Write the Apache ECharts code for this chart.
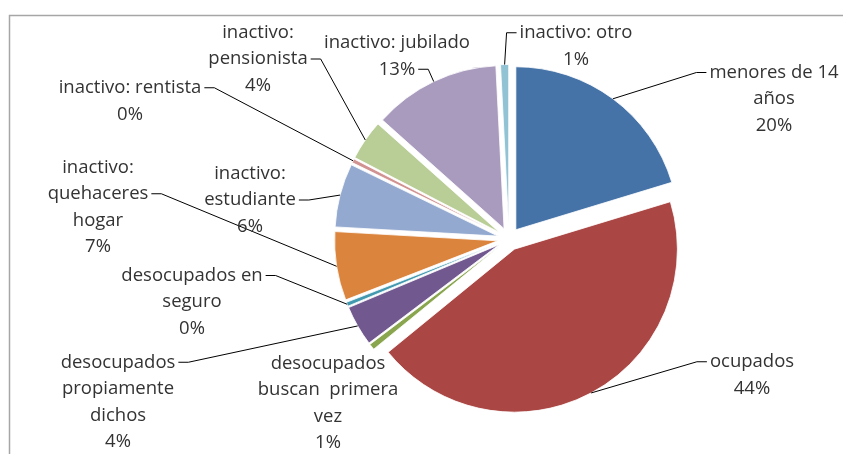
<!DOCTYPE html>
<html>
<head>
<meta charset="utf-8">
<script src="https://cdn.jsdelivr.net/npm/echarts@6/dist/echarts.min.js"></script>
<style>
  html, body { margin: 0; padding: 0; background: #fff; }
  #main { width: 843px; height: 454px; }
</style>
</head>
<body>
<div id="main"></div>
<script>
// categories as they are wrapped in the labels
const categories = [
  'menores de 14\naños',
  'ocupados',
  'desocupados\nbuscan  primera\nvez',
  'desocupados\npropiamente\ndichos',
  'desocupados en\nseguro',
  'inactivo:\nquehaceres\nhogar',
  'inactivo:\nestudiante',
  'inactivo: rentista',
  'inactivo:\npensionista',
  'inactivo: jubilado',
  'inactivo: otro'
]
// share of each group (%)
const values = [20.3, 43.8, 0.6, 4.0, 0.4, 6.8, 6.3, 0.4, 4.0, 12.6, 0.8]

const colors = ['#4572A7', '#AA4643', '#89A54E', '#71588F', '#4198AF', '#DB843D',
  '#93A9CF', '#D19392', '#B9CD96', '#A99BBD', '#91C3D5']

// label placement (centre of each text block) and which text line the leader meets (-1 = none)
const labelPos = [[774, 99], [752, 375], [328, 403], [118, 402], [192, 302], [98, 207],
  [250, 200], [130, 101], [258, 59], [397, 56], [576, 46]]
const leaderLine = [0, 0, -1, 0, 0, 1, 1, 0, 1, 1, 0]

const center = [509, 239]
const radius = 163
const explode = 11.5
const lineH = 26.5
const fontSize = 18.5
const fontFamily = 'Open Sans'

const labelText = function (p) {
  return p.name + '\n' + Math.round(p.percent) + '%'
}

// width of a single label line, so the leader meets that line's end
const ctx = document.createElement('canvas').getContext('2d')
ctx.font = fontSize + 'px "' + fontFamily + '"'
const lineWidth = function (s) { return ctx.measureText(s).width }

var myChart = echarts.init(document.getElementById('main'))
myChart.setOption({
  animation: false,
  graphic: [{
    type: 'rect',
    shape: { x: 9.5, y: 15.5, width: 900, height: 500 },
    style: { fill: 'none', stroke: '#a6a6a6', lineWidth: 1.5 },
    silent: true
  }],
  series: [
    {
      // exploded slices
      type: 'pie',
      center: center,
      radius: radius,
      startAngle: 90,
      selectedMode: 'multiple',
      selectedOffset: explode,
      emphasis: { disabled: true },
      itemStyle: { borderColor: '#fff', borderWidth: 0.8 },
      label: { show: false },
      labelLine: { show: false },
      data: categories.map(function (c, i) {
        return { name: c, value: values[i], selected: true, itemStyle: { color: colors[i] } }
      })
    },
    {
      // same pie, invisible, carrying the data labels and leader lines
      type: 'pie',
      center: center,
      radius: radius,
      startAngle: 90,
      silent: true,
      z: 3,
      emphasis: { disabled: true },
      avoidLabelOverlap: false,
      itemStyle: { color: 'rgba(0,0,0,0)', borderWidth: 0 },
      label: {
        show: true,
        color: '#333',
        fontFamily: fontFamily,
        fontSize: fontSize,
        lineHeight: lineH,
        formatter: labelText
      },
      labelLine: {
        show: true,
        lineStyle: { color: '#000', width: 1 }
      },
      labelLayout: function (params) {
        const i = params.dataIndex
        const pos = labelPos[i]
        const out = { x: pos[0], y: pos[1], align: 'center', verticalAlign: 'middle' }
        const pts = params.labelLinePoints
        if (leaderLine[i] < 0 || !pts) return out
        // start on the slice arc, pushed out like the exploded slice
        const dx = pts[0][0] - center[0]
        const dy = pts[0][1] - center[1]
        const d = Math.sqrt(dx * dx + dy * dy) || 1
        const p0 = [pts[0][0] + dx / d * explode, pts[0][1] + dy / d * explode]
        const lines = params.text.split('\n')
        const w = lineWidth(lines[leaderLine[i]])
        const h = lines.length * lineH
        const ly = pos[1] - h / 2 + lineH * (leaderLine[i] + 0.5)
        const left = p0[0] < pos[0]
        const sx = left ? pos[0] - w / 2 - 3 : pos[0] + w / 2 + 3
        const p1 = [left ? sx - 10 : sx + 10, ly]
        out.labelLinePoints = [p0, p1, [sx, ly]]
        return out
      },
      data: categories.map(function (c, i) {
        return { name: c, value: values[i], labelLine: { show: leaderLine[i] >= 0 } }
      })
    }
  ]
})
</script>
</body>
</html>
